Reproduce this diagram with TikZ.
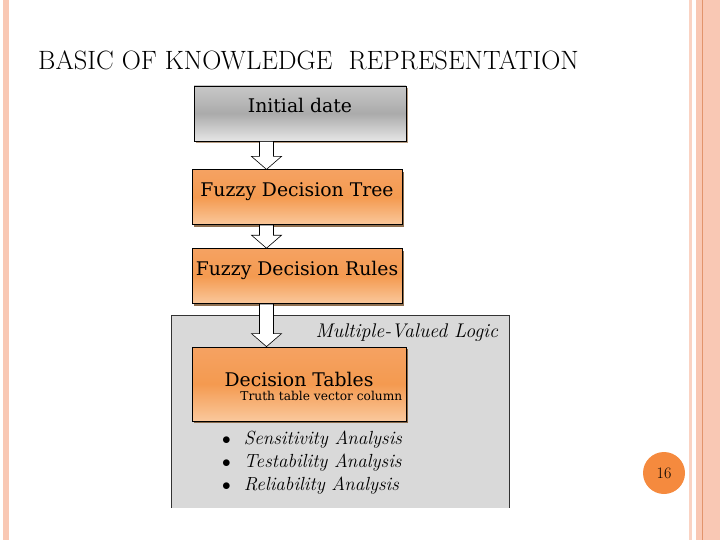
\documentclass[tikz,border=0pt]{standalone}
\usepackage{fontspec}
\newfontfamily\boxfont{DejaVu Serif}
\usepackage{tikz}
\usetikzlibrary{arrows,positioning,calc,shadows}
\definecolor{sidepink}{HTML}{F9C8B4}
\definecolor{sideline}{HTML}{E2946C}
\definecolor{panelgray}{HTML}{D9D9D9}
\definecolor{orangetop}{HTML}{F5A262}
\definecolor{orangemid}{HTML}{F49A50}
\definecolor{orangebot}{HTML}{FAC89C}
\definecolor{pagecircle}{HTML}{F58A3E}
\tikzset{
    %Define style for boxes
    graybox/.style={
           rectangle,
           draw=black, thick,
           minimum width=212pt,
           minimum height=55pt,
           font=\boxfont\fontsize{18.8}{22}\selectfont,
           text centered, text depth=17pt,
           top color=black!22, bottom color=black!10, middle color=black!33,
           drop shadow={shadow xshift=2pt, shadow yshift=-2pt, fill=brown!70!black, opacity=.6},
           },
    orangebox/.style={
           rectangle,
           draw=black, thick,
           minimum width=210pt,
           minimum height=55pt,
           font=\boxfont\fontsize{18.8}{22}\selectfont,
           text centered, text depth=15pt,
           top color=orangetop, bottom color=orangebot, middle color=orangemid,
           drop shadow={shadow xshift=2pt, shadow yshift=-2pt, fill=brown!60!black, opacity=.8},
           },
    % Define arrow style
    blockarrow/.style={
           draw=black, fill=white, semithick, line join=miter,
           },
}
% block arrow from the bottom of one box to the top of the next
\newcommand{\blockarrow}[2]{
\draw[blockarrow] let \p1=(#1.south -| axis), \p2=(#2.north -| axis) in
    (\x1-7pt,\y1) -- (\x1+7pt,\y1) -- (\x1+7pt,\y2+13pt) -- (\x1+15pt,\y2+13pt)
    -- (\x1,\y2) -- (\x1-15pt,\y2+13pt) -- (\x1-7pt,\y2+13pt) -- cycle;
}
\begin{document}
\begin{tikzpicture}[x=1pt,y=-1pt,node distance=28pt]
\useasboundingbox (0,0) rectangle (720,540);
% slide border
\fill[sidepink] (3,0) rectangle (9,540);
\fill[sidepink!80] (689,0) rectangle (692,540);
\fill[sidepink] (696,0) rectangle (720,540);
\draw[sideline] (702.5,0) -- (702.5,540);
\node[anchor=base west, font=\fontsize{26.5}{30}\selectfont, inner sep=0pt] (title) at (38,70) {BASIC OF KNOWLEDGE\ \ REPRESENTATION};
% logic panel
\node[rectangle, fill=panelgray, minimum width=337pt, minimum height=192pt, inner sep=0pt] (L) at (340.5,412) {};
\draw[black!80, thick] (L.south west) -- (L.north west) -- (L.north east) -- (L.south east);
\node[anchor=base east, font=\fontsize{19.8}{22}\selectfont\itshape, inner sep=0pt] (MV) at ($(L.north east)+(-11,22)$) {Multiple-Valued Logic};
\coordinate (axis) at (266.5,0);
% boxes
\node[graybox] (I) at (300,113.5) {Initial date};
\node[orangebox, below=28pt of I, xshift=-3pt] (T) {Fuzzy Decision Tree};
\node[orangebox, below=23pt of T] (R) {Fuzzy Decision Rules};
\node[orangebox, minimum width=214pt, minimum height=74pt] (D) at (299,384) {};
\node[font=\boxfont\fontsize{18.8}{22}\selectfont] (DT) at ($(D.center)+(0,-5)$) {Decision Tables};
\node[anchor=base east, font=\boxfont\fontsize{12.2}{14}\selectfont, inner sep=0pt] (TT) at ($(D.east)+(-4,16)$) {Truth table vector column};
\blockarrow{I}{T}
\blockarrow{T}{R}
\blockarrow{R}{D}
% analyses
\node[anchor=north west, align=left, font=\fontsize{19}{23}\selectfont, inner sep=0pt] (A) at (222,431)
    {$\bullet$\hspace{13pt}\textit{Sensitivity Analysis}\\ $\bullet$\hspace{13pt}\textit{Testability Analysis}\\ $\bullet$\hspace{13pt}\textit{Reliability Analysis}};
% page number
\node[circle, fill=pagecircle, minimum size=42pt, inner sep=0pt, font=\fontsize{16}{18}\selectfont] (P) at (664,473) {16};
\end{tikzpicture}
\end{document}
